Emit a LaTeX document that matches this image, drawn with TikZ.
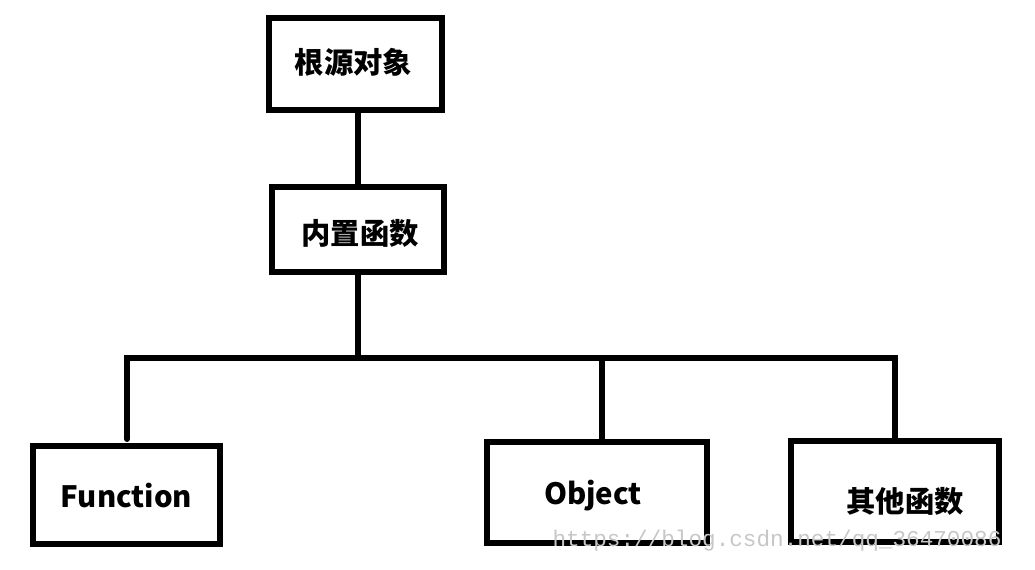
\documentclass[tikz,border=0pt]{standalone}
\usepackage{fontspec}
\setmainfont{Noto Sans CJK SC}
\newfontfamily\markfont{Liberation Mono}
\usepackage{tikz}
\usetikzlibrary{positioning}

\begin{document}
\begin{tikzpicture}[
		x=0.75pt, y=-0.75pt,
		box/.style={
				rectangle, draw, line width=4.5pt,
				inner sep=0pt, text height=#1, text depth=0pt,
				font=\fontsize{22}{26}\selectfont\bfseries
			},
		link/.style={line width=4.5pt, line cap=round}
	]
	\useasboundingbox (0,0) rectangle (1035,569);
	% scatola in alto e suo figlio
	\node[box=14.6pt, minimum width=173*0.75pt, minimum height=92*0.75pt] (root) at (355.5,64) {根源对象\hspace*{3pt}};
	\node[box=22.6pt, minimum width=172*0.75pt, minimum height=85*0.75pt] (builtin) at (358,229.5) {\hspace*{3pt}内置函数};
	% le tre foglie
	\node[box=18.4pt, minimum width=187*0.75pt, minimum height=98*0.75pt] (func) at (126.5,495) {Function};
	\node[box=17.3pt, minimum width=220*0.75pt, minimum height=101*0.75pt] (obj) at (597,492.5) {Object\hspace*{6pt}};
	\node[box=31pt, minimum width=208*0.75pt, minimum height=101*0.75pt] (other) at (895,491.5) {\hspace*{15pt}其他函数};
	\coordinate (bar) at (0,358);
	\coordinate (funcend) at (127,439);
	\draw[link] (builtin.north) -- (builtin.north |- root.south);
	\draw[link] (builtin.south) -- (builtin.south |- bar);
	\draw[link] (funcend) |- (other.north |- bar) -- (other.north);
	\draw[link] ([xshift=5*0.75pt]obj.north |- bar) -- ([xshift=5*0.75pt]obj.north);
	\node[text=black!22, font=\markfont\fontsize{17}{20}\selectfont, inner sep=0pt] (mark) at (777,541) {https://blog.csdn.net/qq\_36470086};
\end{tikzpicture}
\end{document}
